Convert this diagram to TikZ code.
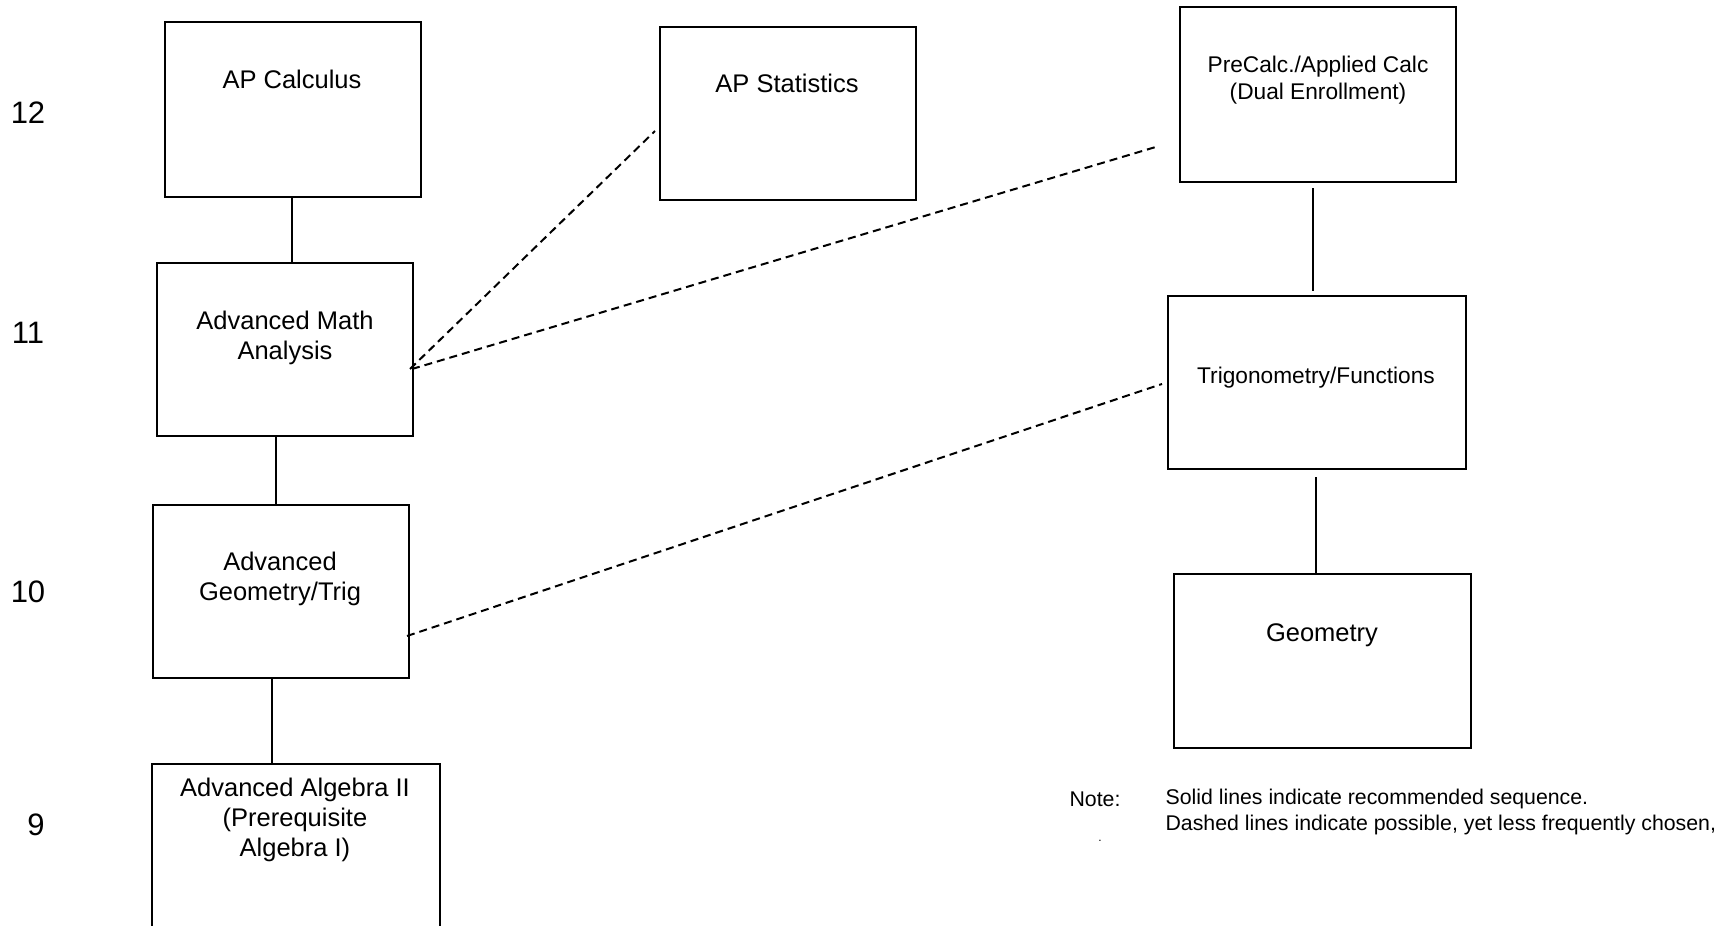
\documentclass[tikz,border=0pt]{standalone}
\usepackage{fontspec}
\setmainfont{Liberation Sans}

\begin{document}
\begin{tikzpicture}[x=1pt,y=-1pt,
        course/.style={draw,line width=2pt,inner sep=0pt},
        big/.style={font=\fontsize{25.5}{30}\selectfont,align=center},
        small/.style={font=\fontsize{22.7}{27}\selectfont,align=center},
        grade/.style={font=\fontsize{31}{36}\selectfont},
        notetext/.style={font=\fontsize{21.3}{26}\selectfont,anchor=west},
        sure/.style={line width=2pt},
        maybe/.style={line width=2pt,dash pattern=on 8pt off 5pt}]
        \clip (0,0) rectangle (1724,926);

        % grade levels
        \node[grade] (g12) at (28,113) {12};
        \node[grade] (g11) at (28,333) {11};
        \node[grade] (g10) at (28,592) {10};
        \node[grade] (g9) at (36,825) {9};

        % left column
        \node[course,minimum width=256pt,minimum height=175pt] (apcalc) at (293,109.5) {};
        \node[big] (apcalc-txt) at (292,79) {AP Calculus};
        \node[course,minimum width=256pt,minimum height=173pt] (ama) at (285,349.5) {};
        \node[big] (ama-txt) at (285,338) {Advanced Math\\Analysis};
        \node[course,minimum width=256pt,minimum height=173pt] (agt) at (281,591.5) {};
        \node[big] (agt-txt) at (280,579) {Advanced\\Geometry/Trig};
        \node[course,minimum width=288pt,minimum height=196pt] (alg2) at (296,862) {};
        \node[big] (alg2-txt) at (295,820) {Advanced Algebra II\\(Prerequisite\\Algebra I)};

        % middle
        \node[course,minimum width=256pt,minimum height=173pt] (apstat) at (788,113.5) {};
        \node[big] (apstat-txt) at (787,83) {AP Statistics};

        % right column
        \node[course,minimum width=276pt,minimum height=175pt] (precalc) at (1318,94.5) {};
        \node[small] (precalc-txt) at (1318,80) {PreCalc./Applied Calc\\(Dual Enrollment)};
        \node[course,minimum width=298pt,minimum height=173pt] (trig) at (1317,382.5) {};
        \node[small] (trig-txt) at (1316,378) {Trigonometry/Functions};
        \node[course,minimum width=297pt,minimum height=174pt] (geom) at (1322.5,661) {};
        \node[big] (geom-txt) at (1322,635) {Geometry};

        % solid = recommended
        \draw[sure] ([xshift=-1pt]apcalc.south) -- ([xshift=7pt]ama.north);
        \draw[sure] ([xshift=-9pt]ama.south) -- ([xshift=-5pt]agt.north);
        \draw[sure] ([xshift=-9pt,yshift=2pt]agt.south) -- ([xshift=-24pt]alg2.north);
        \draw[sure] ([xshift=-5pt,yshift=-5pt]precalc.south) -- ([xshift=-4pt,yshift=4pt]trig.north);
        \draw[sure] ([xshift=-1pt,yshift=-7pt]trig.south) -- ([xshift=-6.5pt]geom.north);

        % dashed = possible
        \draw[maybe] ([xshift=-4pt,yshift=-19.5pt]ama.east) -- ([xshift=-4pt,yshift=-17.5pt]apstat.west);
        \draw[maybe] ([xshift=-2pt,yshift=-19.5pt]ama.east) -- ([xshift=-20pt,yshift=-51.5pt]precalc.west);
        \draw[maybe] ([xshift=-3pt,yshift=-44.5pt]agt.east) -- ([xshift=-5pt,yshift=-1.5pt]trig.west);

        % note
        \node[notetext] (note) at (1066,799) {Note:};
        \node[notetext] (note1) at (1162,799) {Solid lines indicate recommended sequence.};
        \node[notetext] (note2) at (1162,825) {Dashed lines indicate possible, yet less frequently chosen,};
        \node[font=\fontsize{12}{14}\selectfont,anchor=base] (dot) at (1100,841) {.};
    \end{tikzpicture}
\end{document}
